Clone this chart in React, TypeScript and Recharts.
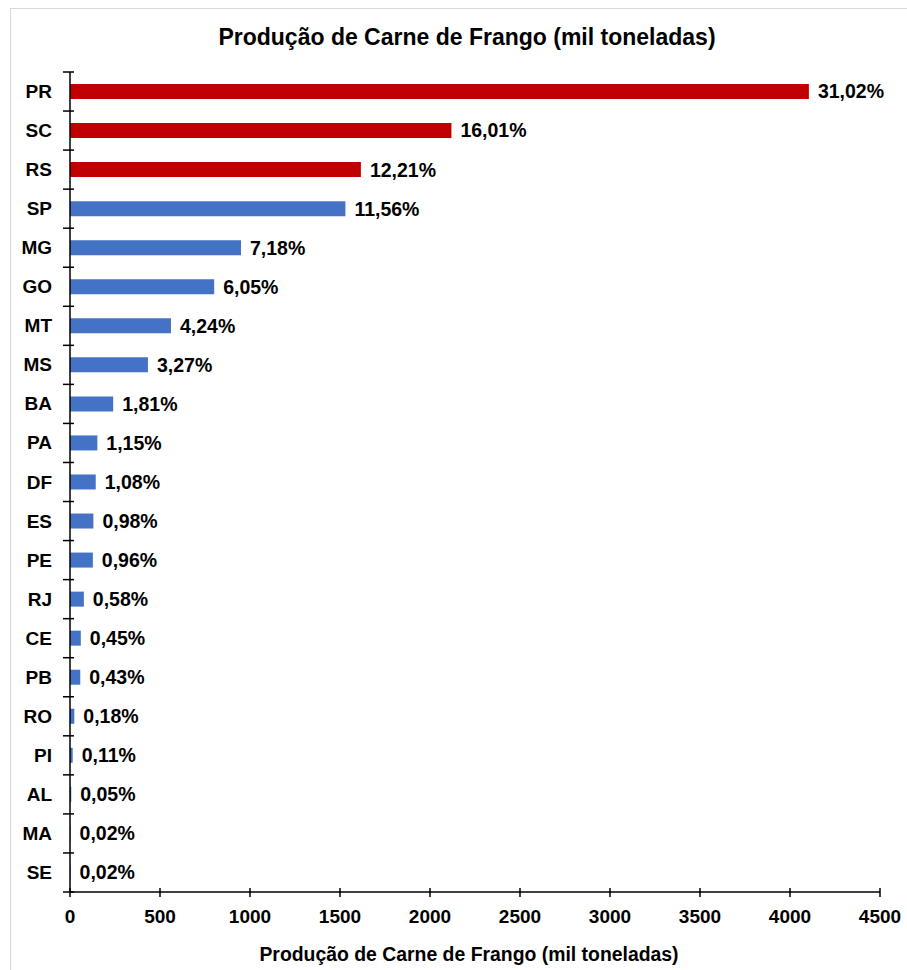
import React from "react";
import { BarChart, Bar, XAxis, YAxis, Cell, LabelList } from "recharts";

const states = ["PR","SC","RS","SP","MG","GO","MT","MS","BA","PA","DF","ES","PE","RJ","CE","PB","RO","PI","AL","MA","SE"];
const production = [4105,2119,1616,1530,950,801,561,433,240,152,143,130,127,77,60,57,24,15,7,3,3];
const shares = ["31,02%","16,01%","12,21%","11,56%","7,18%","6,05%","4,24%","3,27%","1,81%","1,15%","1,08%","0,98%","0,96%","0,58%","0,45%","0,43%","0,18%","0,11%","0,05%","0,02%","0,02%"];
const xTicks = [0,500,1000,1500,2000,2500,3000,3500,4000,4500];
const highlighted = ["PR","SC","RS"];

const TITLE = "Produção de Carne de Frango (mil toneladas)";
const X_TITLE = "Produção de Carne de Frango (mil toneladas)";

const W = 907;
const H = 970;
const MARGIN = { top: 72, right: 27, bottom: 38, left: 10 };
const X_AXIS_H = 40;
const Y_AXIS_W = 60;
const FONT = "'Liberation Sans', Arial, sans-serif";
const RED = "#C00000";
const BLUE = "#4472C4";

const data = states.map((s, i) => ({ state: s, value: production[i], pct: shares[i] }));
const band = (H - MARGIN.top - MARGIN.bottom - X_AXIS_H) / states.length;

const YTick = (props: any) => {
  const { x, y, payload, index } = props;
  const isLast = index === states.length - 1;
  return (
    <g>
      <line x1={x - 7} x2={x + 4} y1={y - band / 2} y2={y - band / 2} stroke="#000" strokeWidth={1.5} />
      {isLast && (
        <line x1={x - 7} x2={x + 4} y1={y + band / 2} y2={y + band / 2} stroke="#000" strokeWidth={1.5} />
      )}
      <text x={x - 18} y={y} textAnchor="end" dominantBaseline="central" fontFamily={FONT} fontWeight="bold" fontSize={19} fill="#000">
        {payload.value}
      </text>
    </g>
  );
};

const XTick = (props: any) => {
  const { x, y, payload } = props;
  return (
    <g>
      <line x1={x} x2={x} y1={y - 4} y2={y + 5} stroke="#000" strokeWidth={1.5} />
      <text x={x} y={y + 31} textAnchor="middle" fontFamily={FONT} fontWeight="bold" fontSize={19} fill="#000">
        {payload.value}
      </text>
    </g>
  );
};

export default function App() {
  return (
    <div style={{ position: "absolute", left: 0, top: 0, width: W, height: H, overflow: "hidden", background: "#fff" }}>
      <div style={{ position: "absolute", left: 10, top: 8, width: 940, height: 1000, border: "1px solid #d9d9d9", boxSizing: "border-box" }} />
      <div style={{ position: "absolute", left: 0, top: 0 }}>
        <BarChart width={W} height={H} data={data} layout="vertical" margin={MARGIN}>
          <XAxis
            type="number"
            domain={[0, 4500]}
            ticks={xTicks}
            interval={0}
            height={X_AXIS_H}
            tickSize={0}
            tickMargin={0}
            tickLine={false}
            axisLine={{ stroke: "#000", strokeWidth: 1.5 }}
            tick={<XTick />}
          />
          <YAxis
            type="category"
            dataKey="state"
            width={Y_AXIS_W}
            interval={0}
            tickSize={0}
            tickMargin={0}
            tickLine={false}
            axisLine={{ stroke: "#000", strokeWidth: 1.5 }}
            tick={<YTick />}
          />
          <Bar dataKey="value" barSize={15} isAnimationActive={false}>
            {data.map((d) => (
              <Cell key={d.state} fill={highlighted.includes(d.state) ? RED : BLUE} />
            ))}
            <LabelList
              dataKey="pct"
              position="right"
              offset={9}
              fontFamily={FONT}
              fontWeight="bold"
              fontSize={19.5}
              fill="#000"
            />
          </Bar>
        </BarChart>
      </div>
      <svg width={W} height={H} style={{ position: "absolute", left: 0, top: 0, pointerEvents: "none" }}>
        <text x={467} y={45} textAnchor="middle" fontFamily={FONT} fontWeight="bold" fontSize={23} fill="#000">
          {TITLE}
        </text>
        <text x={469} y={961} textAnchor="middle" fontFamily={FONT} fontWeight="bold" fontSize={19.4} fill="#000">
          {X_TITLE}
        </text>
      </svg>
    </div>
  );
}
